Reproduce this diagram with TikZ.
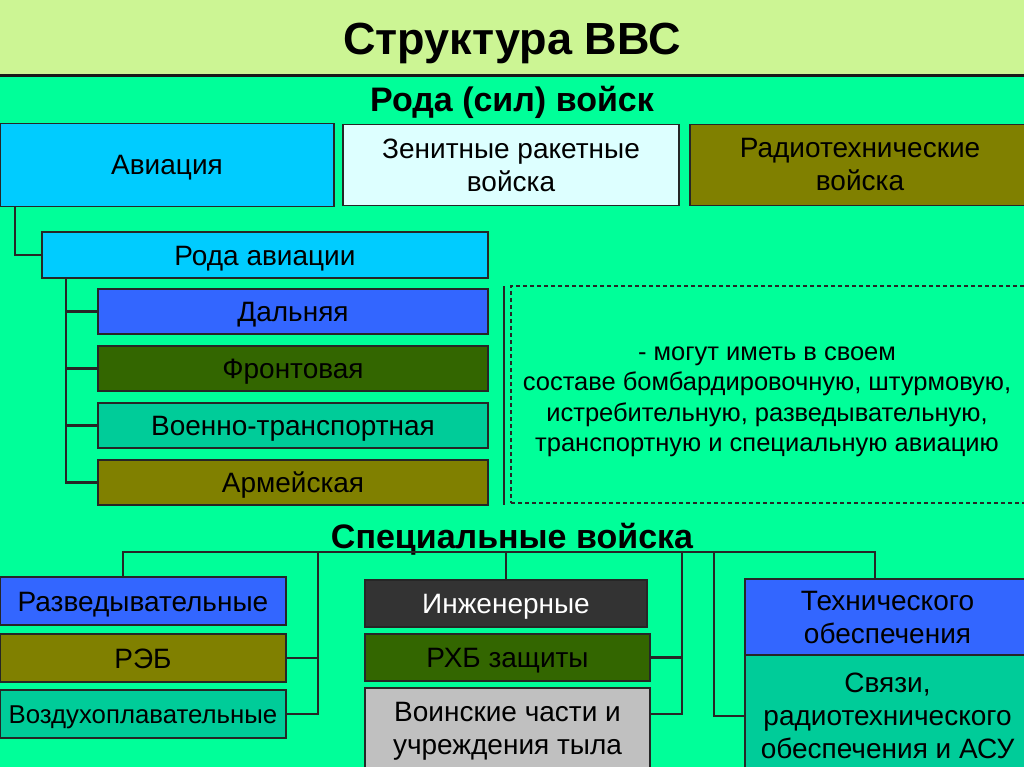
\documentclass[tikz,border=0pt]{standalone}
\usepackage{fontspec}
\setmainfont{Liberation Sans}

\definecolor{bggreen}{HTML}{00FF99}
\definecolor{bandcol}{HTML}{CCF594}
\definecolor{avcyan}{HTML}{00CCFF}
\definecolor{palecyan}{HTML}{DDFFFF}
\definecolor{olivebox}{HTML}{808000}
\definecolor{bluebox}{HTML}{3366FF}
\definecolor{darkgreenbox}{HTML}{336600}
\definecolor{tealbox}{HTML}{00CC99}
\definecolor{darkgreybox}{HTML}{333333}
\definecolor{lightgreybox}{HTML}{C0C0C0}

\newcommand{\boxfont}{\fontsize{28}{33}\selectfont}
\newcommand{\smallboxfont}{\fontsize{25.8}{30}\selectfont}
\newcommand{\notefont}{\fontsize{25.5}{30.5}\selectfont}

\tikzset{
  box/.style={draw=black!85, line width=1.5pt, rectangle, inner sep=0pt, align=center, font=\boxfont},
  oneline/.style={text height=20pt, text depth=0pt},
  conn/.style={draw=black!85, line width=2.4pt},
  head/.style={font=\bfseries\fontsize{34}{40}\selectfont},
}

\begin{document}
\begin{tikzpicture}[x=1pt,y=-1pt]
			\useasboundingbox (0,0) rectangle (1024,767);
			\fill[bggreen] (0,0) rectangle (1024,767);
			\fill[bandcol] (0,0) rectangle (1024,76);
			\draw[line width=3pt, black!90] (0,76) -- (1024,76);
			\node[font=\bfseries\fontsize{45}{50}\selectfont] (title) at (512,43){Структура ВВС};
			\node[head] (rodasil) at (512,102){Рода (сил) войск};
			\node[box, oneline, fill=avcyan, minimum width=334pt, minimum height=83pt] (av) at (167,165){Авиация};
			\node[box, fill=palecyan, minimum width=336pt, minimum height=81pt] (zrv) at (511,165){Зенитные ракетные\\войска};
			\node[box, fill=olivebox, minimum width=340pt, minimum height=81pt] (rtv) at (860,165){Радиотехнические\\войска};
			\node[box, oneline, fill=avcyan, minimum width=446pt, minimum height=46pt] (rodaav) at (265,255){Рода авиации};
			\node[box, oneline, fill=bluebox, minimum width=390pt, minimum height=45pt] (dal) at (293,311.5){Дальняя};
			\node[box, oneline, fill=darkgreenbox, minimum width=390pt, minimum height=45pt] (front) at (293,368.5){Фронтовая};
			\node[box, oneline, fill=tealbox, minimum width=390pt, minimum height=45pt] (vt) at (293,425.5){Военно-транспортная};
			\node[box, oneline, fill=olivebox, minimum width=390pt, minimum height=45pt] (arm) at (293,482.5){Армейская};
			\draw[black!85, line width=1.5pt] (504,286) -- (504,505);
			\node[box, fill=none, dash pattern=on 4pt off 3pt, minimum width=519pt, minimum height=217pt] (note) at (770.5,394.5){};
			\node[font=\notefont, align=center] (notetext) at (767,402){- могут иметь в своем\\составе бомбардировочную, штурмовую,\\истребительную, разведывательную,\\транспортную и специальную авиацию};
			\draw[conn] ([xshift=16pt]av.south west) |- (rodaav.west);
			\foreach \n in {dal,front,vt,arm}
				\draw[conn] ([xshift=25pt]rodaav.south west) |- (\n.west);
			\node[head] (spec) at (512,539){Специальные войска};
			\node[box, oneline, fill=bluebox, minimum width=286pt, minimum height=48pt] (razv) at (143,601){Разведывательные};
			\node[box, oneline, fill=olivebox, minimum width=286pt, minimum height=48pt] (reb) at (143,658){РЭБ};
			\node[box, oneline, fill=tealbox, minimum width=286pt, minimum height=48pt, font=\smallboxfont, text height=18.5pt] (vozd) at (143,714){Воздухоплавательные};
			\node[box, oneline, fill=darkgreybox, text=white, minimum width=282pt, minimum height=47pt] (inzh) at (506,603.5){Инженерные};
			\node[box, oneline, fill=darkgreenbox, minimum width=285pt, minimum height=47pt] (rhb) at (507.5,657.5){РХБ защиты};
			\node[box, fill=lightgreybox, minimum width=285pt, minimum height=87pt] (tyl) at (507.5,731.5){Воинские части и\\учреждения тыла};
			\node[box, fill=bluebox, minimum width=285pt, minimum height=76pt] (tech) at (887.5,617){Технического\\обеспечения};
			\node[box, fill=tealbox, minimum width=285pt, minimum height=122pt] (svyaz) at (887.5,716){Связи,\\радиотехнического\\обеспечения и АСУ};
			\coordinate (busL) at (123,552);
			\coordinate (busR) at (875,552);
			\coordinate (jL) at (318,552);
			\coordinate (jM) at (682,552);
			\coordinate (jR) at (714,552);
			\draw[conn] ([xshift=-20pt]razv.north) -- (busL) -- (busR) -- (busR |- tech.north);
			\draw[conn] (inzh.north) -- (inzh.north |- busL);
			\draw[conn] (jL) |- (reb.east);
			\draw[conn] (jL) |- (vozd.east);
			\draw[conn] (jM) |- (rhb.east);
			\draw[conn] (jM) |- ([yshift=17.5pt]tyl.east);
			\draw[conn] (jR) |- (svyaz.west);
		\end{tikzpicture}
\end{document}
